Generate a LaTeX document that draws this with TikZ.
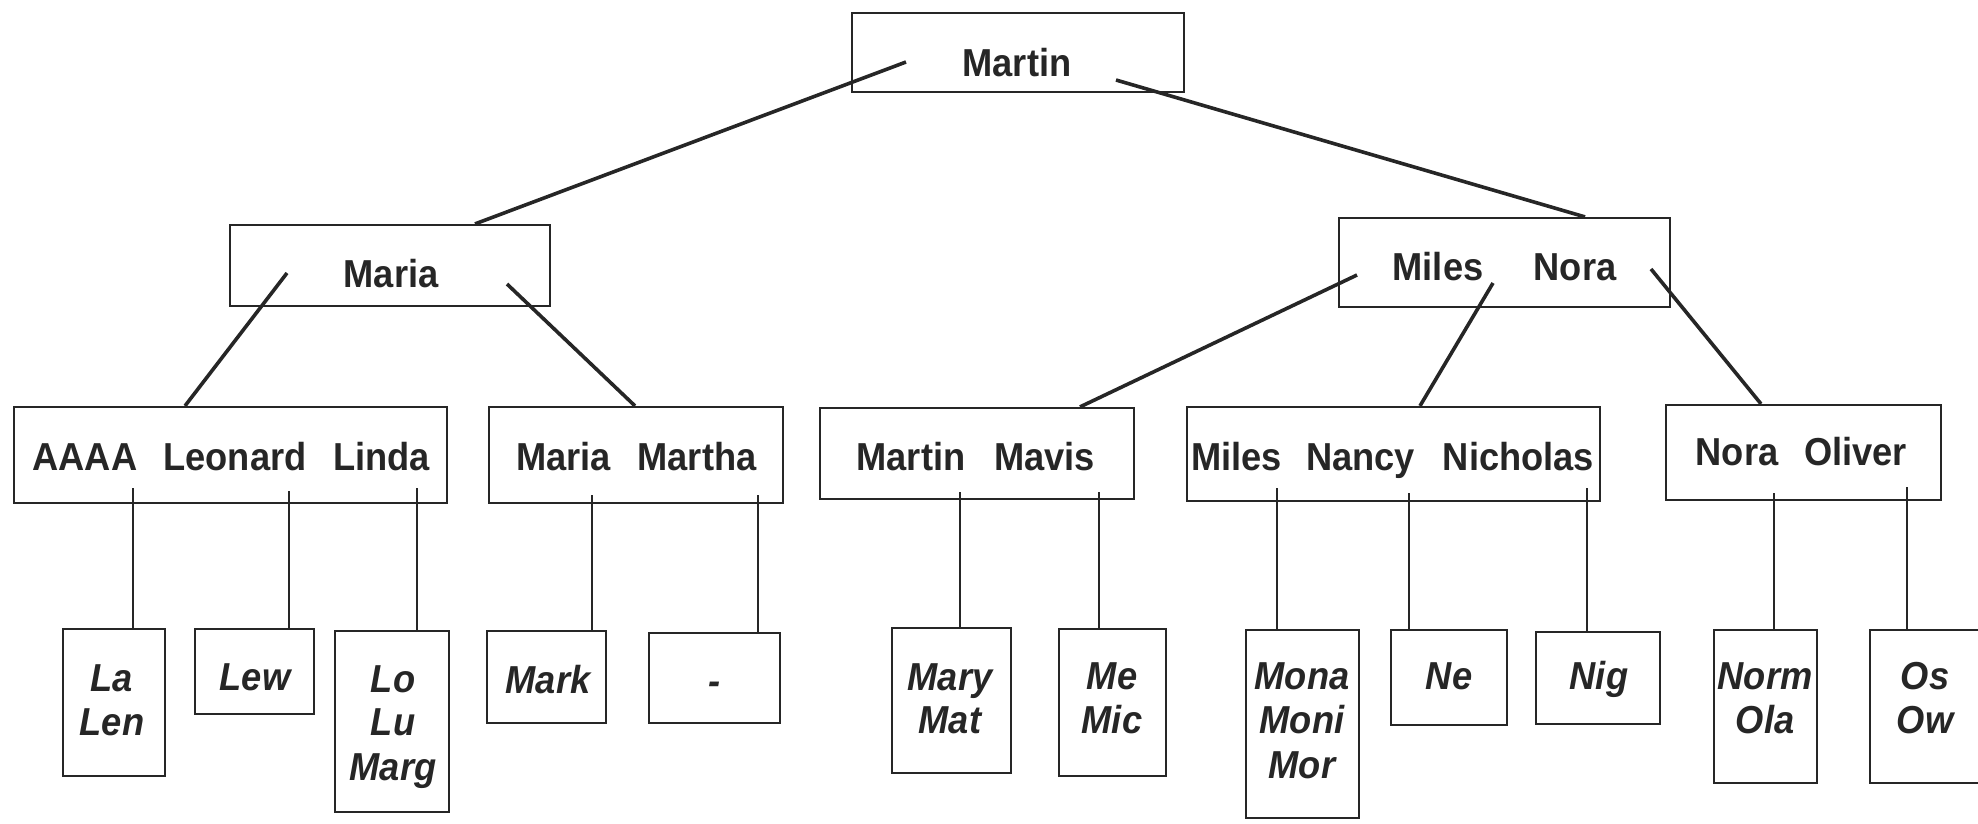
\documentclass[tikz,border=0pt]{standalone}
\usepackage{fontspec}
\usepackage{graphicx}
\newfontfamily\hv{Liberation Sans}
\newcommand{\bw}[1]{\scalebox{0.93}[1]{#1}}
\tikzset{
  box/.style={draw=black!85, line width=2.2pt, inner sep=0pt},
  conn/.style={draw=black!85, line width=3.6pt},
  vline/.style={draw=black!85, line width=2pt},
  lbl/.style={anchor=base, inner sep=0pt, text=black!85, font=\hv\bfseries\fontsize{39}{44}\selectfont},
  leaf/.style={anchor=base, inner sep=0pt, text=black!85, font=\hv\bfseries\itshape\fontsize{39}{44}\selectfont}
}
\begin{document}
\begin{tikzpicture}[x=1pt,y=-1pt]
\useasboundingbox (0,0) rectangle (1978,823);

% ---- level 0
\node[box, minimum width=332pt, minimum height=79pt] (martin) at (1018,52.5) {};
\node[lbl] (tmartin) at (1017,76) {\bw{Martin}};

% ---- level 1
\node[box, minimum width=320pt, minimum height=81pt] (maria) at (390,265.5) {};
\node[lbl] (tmaria) at (391,287) {\bw{Maria}};
\node[box, minimum width=331pt, minimum height=89pt] (milesnora) at (1504.5,262.5) {};
\node[lbl] (tmiles1) at (1438,280) {\bw{Miles}};
\node[lbl] (tnora1) at (1575,280) {\bw{Nora}};

% ---- level 2
\node[box, minimum width=433pt, minimum height=96pt] (aaaa) at (230.5,455) {};
\node[lbl] (waaaa) at (85,470) {\bw{AAAA}};
\node[lbl] (wleonard) at (235,470) {\bw{Leonard}};
\node[lbl] (wlinda) at (381.5,470) {\bw{Linda}};

\node[box, minimum width=294pt, minimum height=96pt] (mariamartha) at (636,455) {};
\node[lbl] (wmaria) at (563.5,470) {\bw{Maria}};
\node[lbl] (wmartha) at (697,470) {\bw{Martha}};

\node[box, minimum width=314pt, minimum height=91pt] (martinmavis) at (977,453.5) {};
\node[lbl] (wmartin) at (911,470) {\bw{Martin}};
\node[lbl] (wmavis) at (1044.5,470) {\bw{Mavis}};

\node[box, minimum width=413pt, minimum height=94pt] (mnn) at (1393.5,454) {};
\node[lbl] (wmiles) at (1236.5,470) {\bw{Miles}};
\node[lbl] (wnancy) at (1360.5,470) {\bw{Nancy}};
\node[lbl] (wnicholas) at (1518.5,470) {\bw{Nicholas}};

\node[box, minimum width=275pt, minimum height=95pt] (noraoliver) at (1803.5,452.5) {};
\node[lbl] (wnora) at (1737,465) {\bw{Nora}};
\node[lbl] (woliver) at (1855.5,465) {\bw{Oliver}};

% ---- leaves
\node[box, minimum width=102pt, minimum height=147pt] (lalen) at (114,702.5) {};
\node[leaf] (l1a) at (112,691) {\bw{La}};
\node[leaf] (l1b) at (112,735) {\bw{Len}};

\node[box, minimum width=119pt, minimum height=85pt] (lew) at (254.5,671.5) {};
\node[leaf] (l2a) at (255,690) {\bw{Lew}};

\node[box, minimum width=114pt, minimum height=181pt] (lolu) at (392,721.5) {};
\node[leaf] (l3a) at (393,692) {\bw{Lo}};
\node[leaf] (l3b) at (393,735) {\bw{Lu}};
\node[leaf] (l3c) at (393,780) {\bw{Marg}};

\node[box, minimum width=119pt, minimum height=92pt] (mark) at (546.5,677) {};
\node[leaf] (l4a) at (548,693) {\bw{Mark}};

\node[box, minimum width=131pt, minimum height=90pt] (dash) at (714.5,678) {};
\node[leaf] (l5a) at (715,694) {\bw{-}};

\node[box, minimum width=119pt, minimum height=145pt] (marymat) at (951.5,700.5) {};
\node[leaf] (l6a) at (950,690) {\bw{Mary}};
\node[leaf] (l6b) at (950,733) {\bw{Mat}};

\node[box, minimum width=107pt, minimum height=147pt] (memic) at (1112.5,702.5) {};
\node[leaf] (l7a) at (1112,689) {\bw{Me}};
\node[leaf] (l7b) at (1112,733) {\bw{Mic}};

\node[box, minimum width=113pt, minimum height=188pt] (mona) at (1302.5,724) {};
\node[leaf] (l8a) at (1302,689) {\bw{Mona}};
\node[leaf] (l8b) at (1302,733) {\bw{Moni}};
\node[leaf] (l8c) at (1302,778) {\bw{Mor}};

\node[box, minimum width=116pt, minimum height=95pt] (ne) at (1449,677.5) {};
\node[leaf] (l9a) at (1449,689) {\bw{Ne}};

\node[box, minimum width=124pt, minimum height=92pt] (nig) at (1598,678) {};
\node[leaf] (l10a) at (1599,689) {\bw{Nig}};

\node[box, minimum width=103pt, minimum height=153pt] (normola) at (1765.5,706.5) {};
\node[leaf] (l11a) at (1765,689) {\bw{Norm}};
\node[leaf] (l11b) at (1765,733) {\bw{Ola}};

\node[box, minimum width=114pt, minimum height=153pt] (osow) at (1927,706.5) {};
\node[leaf] (l12a) at (1925,689) {\bw{Os}};
\node[leaf] (l12b) at (1925,733) {\bw{Ow}};

% ---- connector start / end points
\coordinate (s1) at (906,62);    \coordinate (e1) at (475,0);
\coordinate (s2) at (1116,80);   \coordinate (e2) at (1585,0);
\coordinate (s3) at (287,273);   \coordinate (e3) at (185,0);
\coordinate (s4) at (507,284);   \coordinate (e4) at (635,0);
\coordinate (s5) at (1357,275);  \coordinate (e5) at (1080,0);
\coordinate (s6) at (1493,283);  \coordinate (e6) at (1420,0);
\coordinate (s7) at (1651,269);  \coordinate (e7) at (1761,0);

\draw[conn] (s1) -- (e1 |- maria.north);
\draw[conn] (s2) -- (e2 |- milesnora.north);
\draw[conn] (s3) -- (e3 |- aaaa.north);
\draw[conn] (s4) -- (e4 |- mariamartha.north);
\draw[conn] (s5) -- (e5 |- martinmavis.north);
\draw[conn] (s6) -- (e6 |- mnn.north);
\draw[conn] (s7) -- (e7 |- noraoliver.north);

\coordinate (v1) at (133,488);
\coordinate (v2) at (289,491);
\coordinate (v3) at (417,488);
\coordinate (v4) at (592,495);
\coordinate (v5) at (758,495);
\coordinate (v6) at (960,492);
\coordinate (v7) at (1099,492);
\coordinate (v8) at (1277,488);
\coordinate (v9) at (1409,493);
\coordinate (v10) at (1587,488);
\coordinate (v11) at (1774,493);
\coordinate (v12) at (1907,487);

\draw[vline] (v1) -- (v1 |- lalen.north);
\draw[vline] (v2) -- (v2 |- lew.north);
\draw[vline] (v3) -- (v3 |- lolu.north);
\draw[vline] (v4) -- (v4 |- mark.north);
\draw[vline] (v5) -- (v5 |- dash.north);
\draw[vline] (v6) -- (v6 |- marymat.north);
\draw[vline] (v7) -- (v7 |- memic.north);
\draw[vline] (v8) -- (v8 |- mona.north);
\draw[vline] (v9) -- (v9 |- ne.north);
\draw[vline] (v10) -- (v10 |- nig.north);
\draw[vline] (v11) -- (v11 |- normola.north);
\draw[vline] (v12) -- (v12 |- osow.north);
\end{tikzpicture}
\end{document}
